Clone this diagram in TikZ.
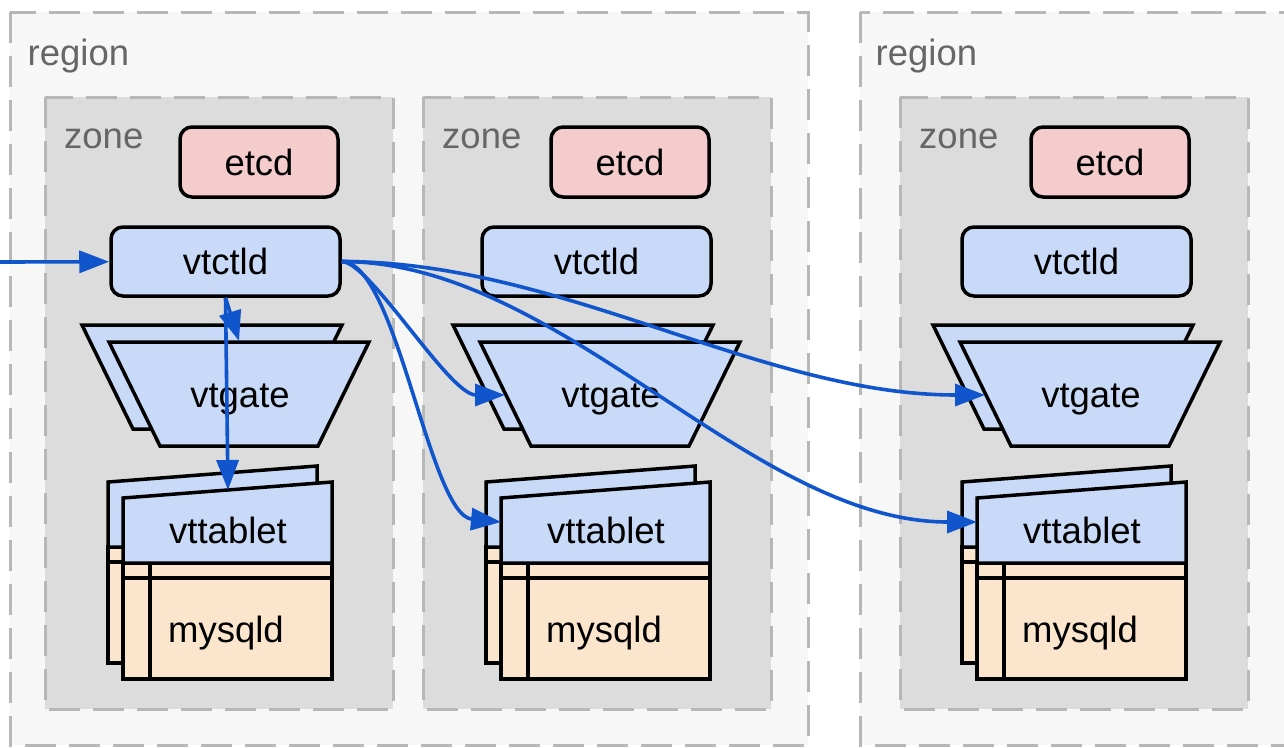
\documentclass[tikz,border=0pt]{standalone}
\usepackage{fontspec}
\setmainfont{Liberation Sans}
\usetikzlibrary{arrows.meta}
\definecolor{regionbg}{HTML}{F7F7F7}
\definecolor{zonebg}{HTML}{DCDCDC}
\definecolor{dashgray}{HTML}{B7B7B7}
\definecolor{labelgray}{HTML}{666666}
\definecolor{etcdred}{HTML}{F4CCCC}
\definecolor{vtblue}{HTML}{C9DAF8}
\definecolor{sqlpeach}{HTML}{FCE5CD}
\definecolor{linkblue}{HTML}{1155CC}
\tikzset{
  areabox/.style={draw=dashgray, line width=3pt, dash pattern=on 31pt off 13pt},
  arealabel/.style={text=labelgray, anchor=base west, inner sep=0pt},
  part/.style={draw=black, line width=3.5pt},
  roundbox/.style={part, rounded corners=12pt},
  partlabel/.style={anchor=base, inner sep=0pt},
  link/.style={draw=linkblue, line width=3.6pt, -{Triangle[length=30pt,width=22pt]}},
}
\begin{document}
\begin{tikzpicture}[x=1pt, y=-1pt, font=\fontsize{36.5}{40}\selectfont]
\useasboundingbox (0,0) rectangle (1284,747);
\clip (0,0) rectangle (1284,747);
\fill[white] (0,0) rectangle (1284,747);
\draw[areabox, fill=regionbg] (10,12) rectangle (808,745);
\draw[areabox, fill=regionbg] (860,12) rectangle (1320,745);
\node[arealabel] (region1) at (27.5,65) {region};
\node[arealabel] (region2) at (875.5,65) {region};
\foreach \n/\zl/\zx/\tx in {1/45/0/0, 2/423/371/378, 3/900/851/854} {
  \draw[areabox, fill=zonebg] (\zl,97) rectangle ++(348,612);
  \node[arealabel] (zone\n) at (\zl+19,148) {zone};
  \node[roundbox, fill=etcdred, minimum width=158pt, minimum height=70pt] (etcd\n) at (\zx+259,162) {etcd};
  \node[roundbox, fill=vtblue, minimum width=229pt, minimum height=69pt] (vtctld\n) at (\zx+225.5,261.5) {vtctld};
  \draw[part, fill=vtblue] (\zx+82,325) -- (\zx+342,325) -- (\zx+291,429) -- (\zx+133,429) -- cycle;
  \draw[part, fill=vtblue] (\zx+109,342) -- (\zx+369,342) -- (\zx+318,446) -- (\zx+160,446) -- cycle;
  \node[partlabel] (vtgate\n) at (\zx+240,407) {vtgate};
  \coordinate (gatein\n) at (\zx+134,395);
  \coordinate (gatetop\n) at (\zx+239,341);
  \begin{scope}[shift={(\tx,0)}]
    \draw[part, fill=sqlpeach] (108,547) rectangle (317,663);
    \draw[part] (108,562) -- (317,562) (135,547) -- (135,663);
    \draw[part, fill=vtblue] (108,482) -- (317,466) -- (317,547) -- (108,547) -- cycle;
    \draw[part, fill=sqlpeach] (123,563) rectangle (332,679);
    \draw[part] (123,578) -- (332,578) (150,563) -- (150,679);
    \draw[part, fill=vtblue] (123,498) -- (332,482) -- (332,563) -- (123,563) -- cycle;
    \node[partlabel] (vttablet\n) at (228,543) {vttablet};
    \node[partlabel] (mysqld\n) at (226,642) {mysqld};
    \coordinate (tabin\n) at (123,522);
    \coordinate (tabtop\n) at (228,490);
  \end{scope}
}
\coordinate (entry) at (0,262);
\draw[link] (entry) -- (vtctld1);
\draw[link] (vtctld1.south) -- (gatetop1);
\draw[link] (vtctld1.south) -- (tabtop1);
\draw[link] (vtctld1.east) .. controls +(28,0) and +(-56,0) .. (gatein2);
\draw[link] (vtctld1.east) .. controls +(55,0) and +(-72,-7) .. (tabin2);
\draw[link] (vtctld1.east) .. controls +(220,0) and +(-224,0) .. (gatein3);
\draw[link] (vtctld1.east) .. controls +(220,0) and +(-227,0) .. (tabin3);
\end{tikzpicture}
\end{document}
